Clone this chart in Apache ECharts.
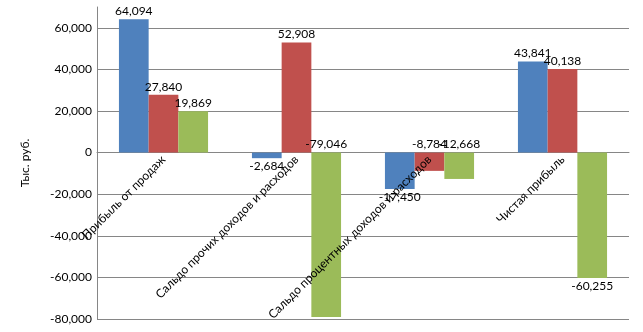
<!DOCTYPE html>
<html>
<head>
<meta charset="utf-8">
<script src="https://cdn.jsdelivr.net/npm/echarts@6/dist/echarts.min.js"></script>
<style>html,body{margin:0;padding:0;background:#fff}#c{width:643px;height:332px}</style>
</head>
<body>
<div id="c"></div>
<script>
const categories = ['Прибыль от продаж', 'Сальдо прочих доходов и расходов', 'Сальдо процентных доходов и расходов', 'Чистая прибыль'];
const series1 = [64094, -2684, -17450, 43841];
const series2 = [27840, 52908, -8784, 40138];
const series3 = [19869, -79046, -12668, -60255];
const yMin = -80000, yMax = 70000, yStep = 20000;
const yAxisTitle = 'Тыс. руб.';

// labels that Excel placed above the zero line for negative bars: [seriesIndex, categoryIndex]
const labelsAboveZero = [[1, 2], [2, 1], [2, 2]];

const colors = ['#4F81BD', '#C0504D', '#9BBB59'];
const font = 'Lato, "Open Sans", sans-serif';
const fs = 12;
const fmt = v => {
  const s = Math.abs(v).toString().replace(/\B(?=(\d{3})+(?!\d))/g, ',');
  return (v < 0 ? '-' : '') + s;
};

function mkSeries(values, si) {
  return {
    type: 'bar',
    barGap: 0,
    barCategoryGap: '33%',
    itemStyle: { color: colors[si] },
    data: values.map((v, ci) => {
      const above = labelsAboveZero.some(p => p[0] === si && p[1] === ci);
      return {
        value: v,
        label: { position: above ? 'top' : 'outside' }
      };
    }),
    label: {
      show: true,
      distance: 2,
      color: '#000',
      fontFamily: font,
      fontSize: fs,
      formatter: p => fmt(p.value)
    }
  };
}

const chart = echarts.init(document.getElementById('c'), null, { renderer: 'canvas' });
const option = {
  animation: false,
  textStyle: { fontFamily: font },
  grid: { left: 97, right: 14, top: 7, bottom: 13, containLabel: false, outerBoundsMode: 'none' },
  xAxis: [{
    type: 'category',
    data: categories,
    axisLine: { show: true, onZero: true, lineStyle: { color: '#868686', width: 1 } },
    axisTick: { show: false },
    axisLabel: { show: false }
  }, {
    type: 'category',
    data: categories,
    position: 'bottom',
    offset: 0,
    z: 20,
    axisLine: { show: false, onZero: false },
    axisTick: { show: false },
    splitLine: { show: false },
    axisLabel: { interval: 0, rotate: 45, margin: 5, color: '#000', fontFamily: font, fontSize: fs, hideOverlap: false }
  }],
  yAxis: {
    type: 'value',
    min: yMin,
    max: yMax,
    interval: yStep,
    name: yAxisTitle,
    nameLocation: 'middle',
    nameGap: 66,
    nameTextStyle: { color: '#000', fontFamily: font, fontSize: fs },
    axisLine: { show: true, lineStyle: { color: '#868686', width: 1 } },
    axisTick: { show: false },
    axisLabel: { showMaxLabel: false, margin: 5, color: '#000', fontFamily: font, fontSize: fs,
      formatter: v => fmt(v) },
    splitLine: { show: true, showMaxLine: false, lineStyle: { color: '#868686', width: 1 } }
  },
  series: [mkSeries(series1, 0), mkSeries(series2, 1), mkSeries(series3, 2)]
};
chart.setOption(option);
// move the label axis up to the zero line, using the value scale
const zeroY = chart.convertToPixel({ yAxisIndex: 0 }, 0);
const bottomY = chart.convertToPixel({ yAxisIndex: 0 }, yMin);
chart.setOption({ xAxis: [{}, { offset: -(bottomY - zeroY) }] });
</script>
</body>
</html>
